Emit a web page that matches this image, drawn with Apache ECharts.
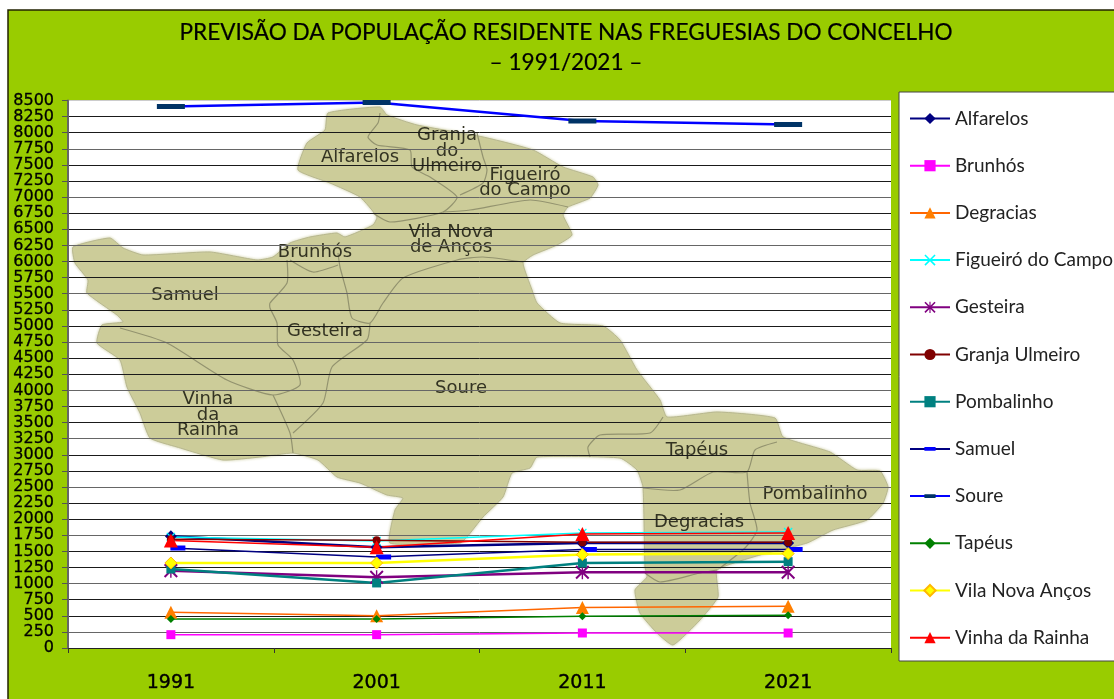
<!DOCTYPE html>
<html>
<head>
<meta charset="utf-8">
<title>Previsão da população residente</title>
<script src="https://cdn.jsdelivr.net/npm/echarts@6/dist/echarts.min.js"></script>
<style>
html, body { margin: 0; padding: 0; background: #fff; overflow: hidden; }
#chart { width: 1114px; height: 699px; }
</style>
</head>
<body>
<div id="chart"></div>
<script>
// valores
var anos = ["1991", "2001", "2011", "2021"];
var alfarelos = [1735, 1565, 1630, 1630];
var brunhos = [207, 207, 233, 233];
var degracias = [554, 500, 627, 647];
var figueiro = [1725, 1660, 1787, 1800];
var gesteira = [1200, 1098, 1176, 1176];
var granja = [1690, 1673, 1640, 1640];
var pombalinho = [1227, 1010, 1320, 1340];
var samuel = [1554, 1414, 1528, 1528];
var soure = [8405, 8468, 8183, 8126];
var tapeus = [450, 450, 492, 507];
var vilaNova = [1320, 1320, 1450, 1466];
var vinha = [1668, 1565, 1771, 1787];

// mapa de fundo (decoração, não são dados)
var mapOutline = [[328,113],[380,107],[387,115],[417,125],[483,137],[533,150],[563,167],[593,177],[598,185],[590,198],[568,207],[563,215],[572,235],[557,245],[533,255],[523,263],[532,290],[537,303],[560,323],[603,326],[620,340],[637,370],[660,400],[667,417],[717,412],[775,418],[783,437],[830,452],[857,470],[880,471],[888,487],[883,503],[867,520],[833,530],[807,543],[760,555],[717,570],[718,597],[700,620],[673,645],[657,633],[640,613],[635,590],[647,577],[645,567],[643,487],[637,470],[620,458],[537,457],[530,468],[512,473],[503,497],[483,517],[467,537],[460,543],[390,543],[395,510],[403,498],[387,495],[360,483],[337,477],[318,460],[293,453],[260,457],[223,460],[177,447],[150,438],[140,413],[127,387],[120,360],[97,343],[102,325],[123,322],[117,315],[87,293],[88,280],[75,263],[73,247],[110,238],[123,248],[143,255],[210,252],[257,260],[273,257],[290,243],[310,237],[337,233],[345,237],[373,225],[377,217],[360,197],[330,183],[298,170],[307,143],[325,130]];
var mapBorders = [
  [[380,113],[378,123],[368,137],[377,145],[410,150],[412,167],[430,177],[457,197],[443,212],[390,222],[373,213]],
  [[477,133],[483,157],[487,170],[483,183],[460,195]],
  [[443,212],[470,210],[530,200],[568,207]],
  [[523,262],[483,257],[457,260],[403,278],[383,303],[370,323],[352,318],[347,293],[340,267],[338,253]],
  [[338,265],[313,272],[290,260]],
  [[287,260],[287,283],[270,303],[270,308],[277,323],[278,345],[293,360],[300,385],[273,395],[227,380],[167,343],[120,328]],
  [[370,323],[367,340],[332,367],[323,403],[293,433]],
  [[273,395],[290,433],[293,453]],
  [[663,417],[650,433],[600,435],[588,447],[590,457]],
  [[643,488],[680,490],[713,472],[747,472],[755,450],[777,442]],
  [[747,472],[750,503],[757,530],[745,548],[720,568]],
  [[645,573],[660,582],[700,573],[717,570]]
];
var mapLabels = [
  ["Alfarelos", 360, 157], ["Granja\ndo\nUlmeiro", 447, 151], ["Figueiró\ndo Campo", 525, 183],
  ["Vila Nova\nde Anços", 451, 240], ["Brunhós", 315, 252], ["Samuel", 185, 295],
  ["Gesteira", 325, 331], ["Soure", 461, 388], ["Vinha\nda\nRainha", 208, 415],
  ["Tapéus", 697, 450], ["Pombalinho", 815, 494], ["Degracias", 699, 522]
];

var xMark = "path://M0 1L1 0L5 4L9 0L10 1L6 5L10 9L9 10L5 6L1 10L0 9L4 5Z";
var starMark = "path://M4.5 0H5.5V10H4.5Z M0 1L1 0L10 9L9 10Z M9 0L10 1L1 10L0 9Z";
// traço ao centro de uma caixa quadrada, para ficar fino também na legenda
var dashMark = "path://M0 10H30V20H0Z M15 0L15 0Z M15 30L15 30Z";

var gridColors = [];
for (var i = 0; i <= 34; i++) {
  gridColors.push(i === 34 ? "#ccc" : (i % 3 === 1 ? "#666" : "#1a1a1a"));
}

function linha(name, data, cor, largura, simbolo, tamanho, corSimbolo, extra) {
  return Object.assign({
    name: name,
    type: "line",
    data: data,
    symbol: simbolo,
    symbolSize: tamanho,
    showAllSymbol: true,
    clip: false,
    lineStyle: { color: cor, width: largura },
    itemStyle: { color: corSimbolo || cor, opacity: 1 },
    emphasis: { disabled: true },
    animation: false
  }, extra || {});
}

var graphics = [
  { type: "rect", shape: { x: 8, y: 10, width: 1120, height: 700 }, style: { fill: "#99CC00", stroke: "#222200", lineWidth: 1.5 } },
  { type: "rect", shape: { x: 68, y: 100, width: 823, height: 548 }, style: { fill: "#fff" } },
  { type: "polygon", shape: { points: mapOutline, smooth: 0.15 }, style: { fill: "#CCCC99", stroke: "#b8b88f", lineWidth: 1, shadowBlur: 3, shadowColor: "#cfcfa6" } },
  { type: "rect", shape: { x: 899, y: 92, width: 240, height: 569 }, style: { fill: "#fff", stroke: "#444", lineWidth: 1 } }
];
mapBorders.forEach(function (b) {
  graphics.push({ type: "polyline", shape: { points: b, smooth: 0.2 }, style: { fill: null, stroke: "#93936f", lineWidth: 1.2 } });
});
mapLabels.forEach(function (l) {
  graphics.push({
    type: "text", x: l[1], y: l[2],
    style: { text: l[0], fill: "#333322", font: "18px 'DejaVu Sans'", align: "center", verticalAlign: "middle", lineHeight: 15.5 }
  });
});

var chart = echarts.init(document.getElementById("chart"));
chart.setOption({
  animation: false,
  graphic: { z: -1, elements: graphics },
  title: {
    text: "PREVISÃO DA POPULAÇÃO RESIDENTE NAS FREGUESIAS DO CONCELHO\n– 1991/2021 –",
    left: 561,
    top: 13,
    textAlign: "center",
    textStyle: { fontFamily: "Lato", fontWeight: "normal", fontSize: 22.6, lineHeight: 30, color: "#000", textBorderColor: "#000", textBorderWidth: 0.2 }
  },
  legend: {
    orient: "vertical",
    left: 909,
    top: 109,
    padding: 0,
    itemWidth: 40,
    itemHeight: 14,
    itemGap: 28.2,
    selectedMode: false,
    textStyle: { fontFamily: "Lato", fontSize: 19, color: "#222" }
  },
  grid: { left: 68, top: 100.5, width: 823, height: 547.5 },
  xAxis: {
    type: "category",
    data: anos,
    axisLine: { lineStyle: { color: "#222", width: 1 } },
    axisTick: { show: true, length: 5, alignWithLabel: false, lineStyle: { color: "#333" } },
    axisLabel: { margin: 26, fontFamily: "DejaVu Sans", fontSize: 19, color: "#000", textBorderColor: "#000", textBorderWidth: 0.4 }
  },
  yAxis: {
    type: "value",
    min: 0,
    max: 8500,
    interval: 250,
    axisLine: { show: true, lineStyle: { color: "#666", width: 2 } },
    axisTick: { show: true, length: 6, lineStyle: { color: "#555" } },
    axisLabel: {
      margin: 14, fontFamily: "DejaVu Sans", fontSize: 16, color: "#000", textBorderColor: "#000", textBorderWidth: 0.3,
      formatter: function (v) { return String(v); }
    },
    splitLine: { show: true, lineStyle: { color: gridColors, width: 1 } }
  },
  series: [
    linha("Alfarelos", alfarelos, "#000080", 2.5, "diamond", 12),
    linha("Brunhós", brunhos, "#FF00FF", 1.5, "rect", 9),
    linha("Degracias", degracias, "#FF6600", 1.5, "triangle", 13, "#FF7F00"),
    linha("Figueiró do Campo", figueiro, "#00FFFF", 1.5, xMark, 9),
    linha("Gesteira", gesteira, "#800080", 2.5, starMark, 14),
    linha("Granja Ulmeiro", granja, "#800000", 1.5, "circle", 8),
    linha("Pombalinho", pombalinho, "#008080", 2.5, "rect", 9),
    linha("Samuel", samuel, "#000080", 1.5, dashMark, [15, 15], "#0000FF", { symbolOffset: [7, 0] }),
    linha("Soure", soure, "#0000FF", 2.5, dashMark, [28, 15], "#003366"),
    linha("Tapéus", tapeus, "#008000", 1.5, "diamond", 8),
    linha("Vila Nova Anços", vilaNova, "#FFFF00", 2.5, "diamond", 12, "#FFFF00", {
      itemStyle: { color: "#FFFF00", borderColor: "#FFB800", borderWidth: 1, opacity: 1 }
    }),
    linha("Vinha da Rainha", vinha, "#FF0000", 1.5, "triangle", 14)
  ]
});
window.addEventListener("resize", function () { chart.resize(); });
</script>
</body>
</html>
